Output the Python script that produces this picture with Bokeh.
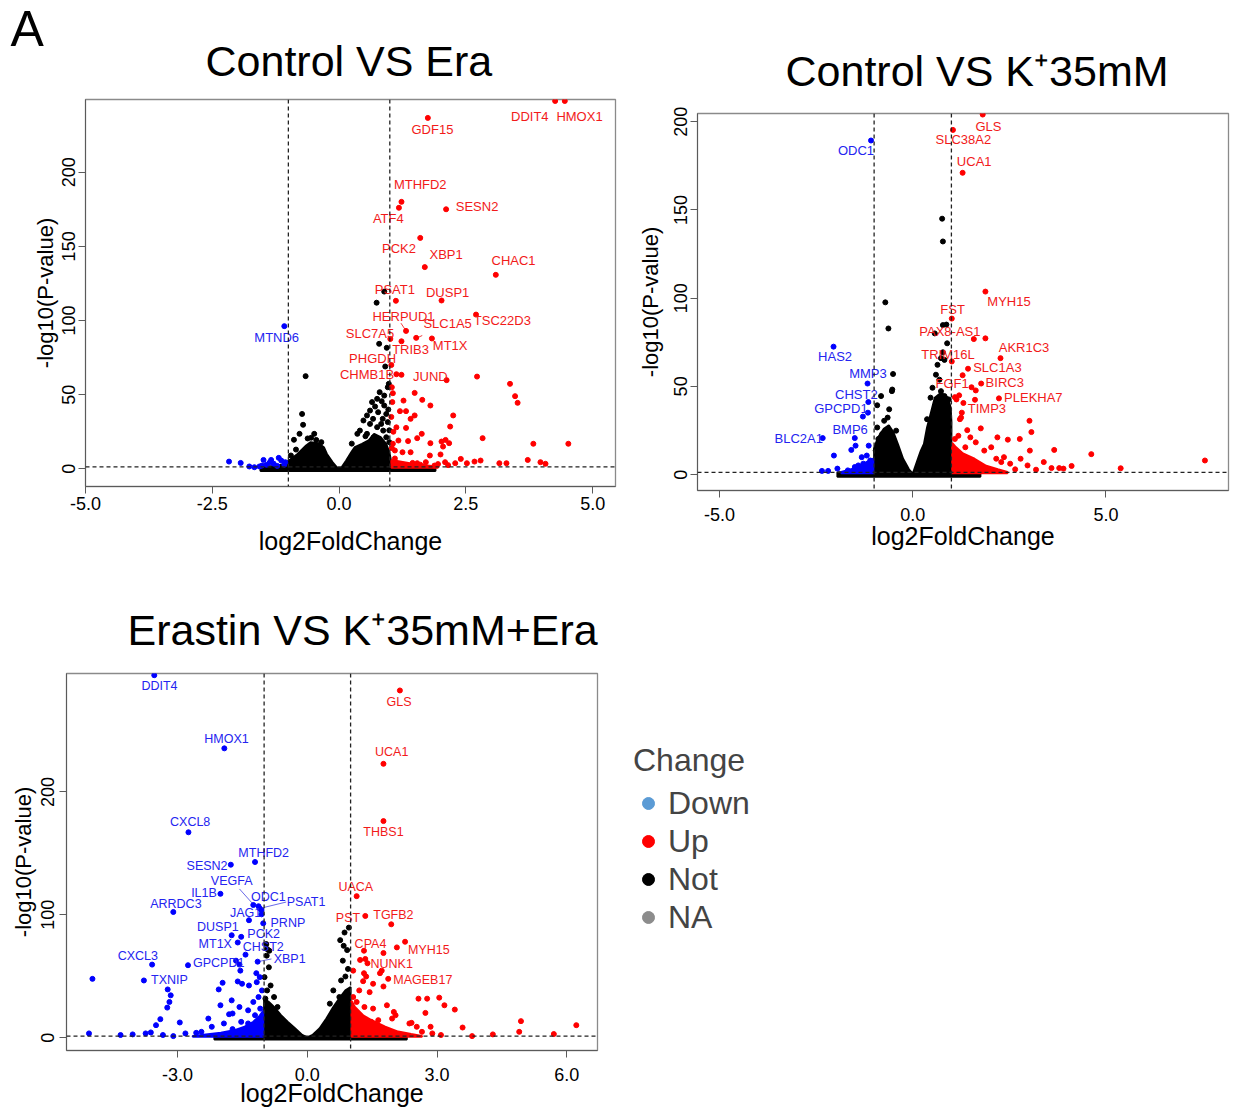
import math
from bokeh.plotting import figure
from bokeh.layouts import column, row
from bokeh.models import (Span, Title, FixedTicker, Legend, LegendItem,
                          Range1d, ColumnDataSource)
from bokeh.embed import file_html
from bokeh.resources import INLINE
from bokeh.core.properties import value

FONT = "Liberation Sans"
LFC_CUT = 1.0
P_CUT = -math.log10(0.05)
NAN = float("nan")

# ---------------------------------------------------------------- legend
legend_title = "Change"
legend_labels = ["Down", "Up", "Not", "NA"]
legend_colors = ["#5b9bd5", "#ff0000", "#000000", "#8c8c8c"]
panel_tag = "A"

# ================================================================ panel 1: Control VS Era
era_title = "Control VS Era"
era_xticks = [-5.0, -2.5, 0.0, 2.5, 5.0]
era_xtick_labels = ["-5.0", "-2.5", "0.0", "2.5", "5.0"]
era_yticks = [0, 50, 100, 150, 200]
era_ytick_labels = ["0", "50", "100", "150", "200"]

era_gene = ["DDIT4", "HMOX1", "GDF15", "MTHFD2", "ATF4", "SESN2", "PCK2", "XBP1", "CHAC1",
            "PSAT1", "DUSP1", "HERPUD1", "SLC1A5", "TSC22D3", "SLC7A5", "TRIB3", "MT1X",
            "PHGDH", "CHMB1B", "JUND", "MTND6"]
era_gene_x = [4.26, 4.45, 1.75, 1.23, 1.18, 2.11, 1.60, 1.69, 3.09, 1.12, 2.02, 1.32, 1.52,
              2.70, 1.01, 1.23, 1.83, 1.03, 1.13, 2.12, -1.08]
era_gene_y = [248, 248, 236.6, 180, 176, 175, 155.7, 136, 130.8, 113.3, 113.5, 93, 88.3,
              104, 87.6, 86, 87.9, 70, 63.8, 59.8, 96.2]
era_gene_change = ["Up"] * 20 + ["Down"]
era_gene_tx = [3.76, 4.74, 1.84, 1.60, 0.97, 2.72, 1.18, 2.11, 3.44, 1.10, 2.14, 1.27, 2.14,
               3.22, 0.61, 1.41, 2.19, 0.66, 0.55, 1.80, -1.23]
era_gene_ty = [237.5, 237.5, 229, 191.5, 169, 177, 148.8, 144.5, 140.4, 121, 118.6, 102.5,
               98.2, 100, 91, 80.2, 83.1, 74.2, 63.4, 62.5, 88.8]
era_seg_x0 = [1.22, 1.64]
era_seg_y0 = [98.2, 89.9]
era_seg_x1 = [1.32, 1.54]
era_seg_y1 = [93.0, 88.3]

era_up_x = [2.72, 3.37, 3.47, 3.52, 1.06, 1.49, 1.64, 1.80, 1.27, 1.20, 1.32, 1.49, 1.41, 2.25,
            2.19, 1.13, 1.32, 1.63, 1.54, 1.36, 1.17, 1.80, 2.02, 2.17, 2.83, 3.83, 4.52, 2.00,
            1.79, 1.06, 1.10, 1.25, 1.41, 2.40, 2.67, 2.79, 3.16, 3.30, 3.72, 3.97, 4.07, 2.09,
            2.29, 2.52, 1.71, 1.54, 1.88, 1.23, 1.04, 1.05, 1.03, 1.07, 1.04, 1.10, 1.15, 1.30,
            1.45, 1.60, 1.95, 2.15, 2.05, 2.10]
era_up_y = [62.2, 57.3, 49, 44.5, 51, 51.2, 46.5, 42.7, 46, 38.9, 38.9, 36, 33.7, 36,
            28.5, 28, 27.6, 23.6, 20.7, 18.7, 19.1, 17.3, 18.4, 17.3, 20.7, 16.9, 16.9, 9.7,
            9, 16.9, 12.4, 11.2, 11.2, 6.7, 4.9, 5.6, 3.8, 3.8, 6, 4.5, 3.4, 4.5,
            3.8, 3.8, 4.5, 3.8, 2.2, 63.4, 55, 45, 35, 25, 14, 7, 3, 2.5,
            4, 2.8, 3.2, 2.5, 15, 19.5]
era_down_x = [-2.17, -1.94, -1.77, -1.67, -1.49, -1.34, -1.19, -1.14, -1.06, -1.57, -1.43,
              -1.29, -1.22, -1.08, -1.37, -1.52]
era_down_y = [4.9, 4.0, 1.6, 1.1, 6.0, 6.0, 7.4, 5.6, 4.5, 1.6, 2.7, 3.5, 2.0, 2.8, 4.2, 2.2]
era_not_x = [-0.66, -0.73, -0.71, -0.49, -0.78, -0.89, 0.89, 0.74, 0.79, 0.94, 0.91, 0.98,
             0.96, 0.80, 0.89, 0.75, 0.84, 0.65, 0.89, 0.71, 0.61, 0.77, 0.93, 0.55, 0.67,
             0.86, 0.48, 0.96, 0.61, 0.41, 0.75, 0.87, 0.36, 0.55, 0.68, 0.93, 0.83, 0.72,
             0.99, -0.62, -0.55, -0.45, -0.35, -0.95, -0.85, 0.25, 0.52, 0.99, 0.97]
era_not_y = [62.5, 37, 29.7, 23.6, 23.6, 19.6, 119.5, 112, 84.3, 81.6, 69, 57.3,
             55, 51.7, 49.4, 47.2, 45.6, 45, 42.7, 42, 39.3, 38.2, 37, 36, 33.7,
             33.7, 32.6, 31.5, 30.3, 25.8, 28.1, 25.8, 23.6, 23.6, 21.3, 21.3, 30.3, 16.9,
             18, 20.5, 21, 19.5, 18, 9, 13, 17, 22, 26, 40]
# outlines of the dense, overplotted point clouds
era_not_core_x = [-1.55, -1.30, -1.10, -0.99, -0.82, -0.65, -0.56, -0.41, -0.30, -0.24, -0.13,
                  -0.03, 0.04, 0.14, 0.24, 0.31, 0.45, 0.58, 0.69, 0.82, 0.93, 0.99, 1.03,
                  1.30, 1.60, 1.90, 1.90, -1.55]
era_not_core_y = [1.5, 2.0, 3.0, 5.6, 10.0, 15.7, 18.0, 17.3, 14.6, 10.0, 4.5, 0.5, 0.5, 5.6,
                  11.2, 14.6, 16.9, 19.1, 23.6, 21.3, 16.9, 11.2, 4.5, 2.2, 1.5, 1.0, -1.5, -1.5]
era_up_core_x = [1.03, 1.03, 1.20, 1.45, 1.70, 1.95, 1.95]
era_up_core_y = [0.8, 6.0, 5.0, 3.5, 2.5, 1.5, 0.8]

# ================================================================ panel 2: Control VS K+35mM
k35_title = "Control VS K\u207a35mM"
k35_xticks = [-5.0, 0.0, 5.0]
k35_xtick_labels = ["-5.0", "0.0", "5.0"]
k35_yticks = [0, 50, 100, 150, 200]
k35_ytick_labels = ["0", "50", "100", "150", "200"]

k35_gene = ["GLS", "SLC38A2", "UCA1", "ODC1", "MYH15", "FST", "PAX8-AS1", "AKR1C3", "TRIM16L",
            "SLC1A3", "BIRC3", "FGF1", "PLEKHA7", "TIMP3", "HAS2", "MMP3", "CHST2", "GPCPD1",
            "BMP6", "BLC2A1"]
k35_gene_x = [1.81, 1.04, 1.29, -1.08, 1.88, 1.01, 1.58, 2.27, 1.01, 1.43, 1.77, 1.29, 2.23,
              1.61, -2.05, -1.17, -1.15, -1.16, -1.50, -2.33]
k35_gene_y = [204, 195.3, 171, 189.3, 103.7, 88.4, 76.8, 66, 64.1, 60, 51.6, 56.3, 43.2,
              42.4, 72.5, 51.6, 41.1, 35.1, 20.7, 20.7]
k35_gene_change = ["Up", "Up", "Up", "Down", "Up", "Up", "Up", "Up", "Up", "Up", "Up", "Up",
                   "Up", "Up", "Down", "Down", "Down", "Down", "Down", "Down"]
k35_gene_tx = [1.96, 1.31, 1.59, -1.47, 2.49, 1.03, 0.96, 2.88, 0.91, 2.19, 2.38, 1.02, 3.12,
               1.92, -2.01, -1.16, -1.46, -1.86, -1.62, -2.95]
k35_gene_ty = [197, 189.7, 177.2, 183.7, 98.1, 93.6, 80.9, 72, 68.2, 60.7, 52, 51.6, 43.6,
               37.6, 66.9, 57.2, 45.4, 37.6, 25.8, 20.2]

k35_up_x = [1.88, 1.09, 1.20, 1.13, 1.27, 1.25, 1.22, 1.76, 1.41, 2.19, 2.46, 2.77, 3.02, 3.07,
            3.03, 3.66, 4.62, 7.56, 5.38, 4.11, 3.90, 3.79, 3.59, 3.39, 3.19, 2.97, 2.65, 2.36,
            2.16, 2.03, 1.85, 1.63, 1.49, 1.18, 1.09, 1.36, 2.29, 2.52, 2.79, 1.52, 1.63, 1.31]
k35_up_y = [77.2, 43.9, 44.9, 42.6, 35.1, 32.3, 31.4, 26.2, 25.2, 21.1, 19.8, 20.2, 30.5, 24.1,
            13.6, 14.0, 11.6, 8.0, 3.6, 4.9, 3.4, 3.7, 3.7, 7.1, 2.8, 5.2, 3.0, 9.9,
            9.0, 15.5, 13.6, 18.3, 21.1, 22.0, 20.2, 15.5, 7.1, 6.2, 9.0, 49.5, 47.7, 40.6]
k35_down_x = [-2.04, -1.59, -1.48, -1.14, -1.32, -1.19, -2.35, -2.19, -1.95, -1.68, -1.41,
              -1.28, -1.10, -1.50, -1.23, -1.29]
k35_down_y = [10.8, 14.0, 16.4, 16.4, 9.9, 10.8, 2.1, 2.1, 3.4, 2.4, 5.2, 6.2, 8.0, 4.3, 3.4,
              32.9]
k35_not_x = [0.76, 0.78, -0.71, -0.63, 0.87, 0.78, 0.89, 0.57, 0.78, 0.82, 0.73, -0.51, -0.53,
             -0.54, -0.82, -0.92, -0.65, -0.61, -0.92, -0.79, 0.64, 0.60, 0.69, 0.51, 0.73,
             0.82, 0.93, 0.46, 0.64, 0.87, 0.54, 0.78, 0.37, 0.93, -0.74, -0.43, -0.89, -0.96]
k35_not_y = [145, 132.1, 97.6, 82.8, 85, 84.7, 74.4, 80, 69.3, 65, 66, 57, 48.2,
             47.3, 44.5, 39.3, 32.3, 37, 26.7, 23, 62.2, 56.6, 53.8, 49.2, 47.3,
             44.5, 42.6, 43.6, 39.8, 37.9, 35.1, 33.3, 31.4, 29.5, 30.5, 24.9, 20.2, 13.6]
k35_not_core_x = [-1.95, -1.50, -1.00, -1.00, -0.90, -0.75, -0.62, -0.50, -0.38, -0.25, -0.10,
                  0.0, 0.06, 0.15, 0.21, 0.29, 0.37, 0.46, 0.57, 0.73, 0.91, 0.98, 1.00, 1.00,
                  1.40, 1.75, 1.75, -1.95]
k35_not_core_y = [1.3, 1.5, 2.0, 15.0, 21.0, 26.0, 28.0, 24.0, 17.0, 9.0, 3.0, 0.5, 4.3, 9.9,
                  13.6, 17.4, 26.7, 34.2, 43.6, 46.4, 43.6, 38.0, 30.0, 2.0, 1.5, 1.3, -1.2,
                  -1.2]
k35_up_core_x = [1.02, 1.02, 1.10, 1.30, 1.60, 1.90, 2.20, 2.45, 2.45]
k35_up_core_y = [0.8, 18.0, 16.0, 12.0, 9.0, 5.0, 3.0, 1.5, 0.8]
k35_down_core_x = [-1.02, -1.02, -1.20, -1.40, -1.60, -1.85, -1.85]
k35_down_core_y = [0.8, 9.0, 7.0, 5.0, 3.0, 1.5, 0.8]

# ================================================================ panel 3: Erastin VS K+35mM+Era
erak_title = "Erastin VS K\u207a35mM+Era"
erak_xticks = [-3.0, 0.0, 3.0, 6.0]
erak_xtick_labels = ["-3.0", "0.0", "3.0", "6.0"]
erak_yticks = [0, 100, 200]
erak_ytick_labels = ["0", "100", "200"]

erak_gene = ["DDIT4", "HMOX1", "CXCL8", "MTHFD2", "SESN2", "VEGFA", "IL1B", "ODC1", "PSAT1",
             "ARRDC3", "JAG1", "PRNP", "DUSP1", "PCK2", "MT1X", "CHST2", "CXCL3", "GPCPD1",
             "XBP1", "TXNIP", "GLS", "UCA1", "THBS1", "UACA", "PST", "TGFB2", "CPA4",
             "MYH15", "NUNK1", "MAGEB17"]
erak_gene_x = [-3.54, -1.92, -2.75, -1.21, -1.77, -1.25, -2.01, -1.13, -1.10, -3.10, -1.35,
               -1.02, -1.75, -1.53, -1.61, -1.43, -3.59, -2.76, -1.15, -3.78, 2.14, 1.76,
               1.76, 1.14, 1.34, 1.94, 1.31, 2.26, 1.72, 1.87]
erak_gene_y = [295, 235.5, 167.2, 143, 140.8, 108, 117.1, 107, 105.2, 102.3, 95.6, 93.1,
               83.4, 82.1, 77.5, 67.6, 59.5, 59, 61.9, 46.6, 282.6, 222.9, 176.3, 115.2,
               99.1, 92.3, 70.8, 78.1, 54.6, 47.9]
erak_gene_change = ["Down"] * 20 + ["Up"] * 10
erak_gene_tx = [-3.42, -1.87, -2.71, -1.01, -2.32, -1.75, -2.39, -0.90, -0.03, -3.04, -1.43,
                -0.45, -2.07, -1.01, -2.13, -1.02, -3.92, -2.05, -0.41, -3.19, 2.12, 1.95,
                1.76, 1.12, 0.94, 1.99, 1.46, 2.81, 1.95, 2.67]
erak_gene_ty = [286, 243, 175.8, 150.7, 139.4, 127.3, 117.9, 114.7, 110.4, 109, 101.2, 93.7,
                90.2, 84.3, 76.2, 74, 66.2, 60.8, 64.1, 47.1, 273.2, 232.3, 167.7, 122.5,
                97.7, 99.6, 76.2, 71.3, 60, 47.1]
erak_seg_x0 = [-1.57, -0.49, -0.83]
erak_seg_y0 = [121.1, 110.4, 64.1]
erak_seg_x1 = [-1.25, -1.10, -1.15]
erak_seg_y1 = [108.5, 105.2, 61.9]

erak_up_x = [1.76, 1.34, 1.22, 1.39, 1.31, 1.36, 1.29, 1.06, 1.52, 1.68, 1.20, 1.44, 1.06,
             1.14, 1.32, 1.52, 1.84, 2.00, 2.04, 2.57, 2.77, 3.05, 3.17, 3.41, 2.73, 2.36,
             2.53, 2.85, 3.59, 4.94, 4.90, 6.22, 5.70, 4.29, 3.81, 3.09, 2.89, 2.65, 2.41,
             1.96, 1.64, 1.48, 2.07, 1.76]
erak_up_y = [68.9, 64.1, 63.3, 60.6, 52.5, 49.8, 46.0, 54.6, 43.9, 52.5, 38.5, 37.1, 33.1,
             29.1, 25.0, 23.7, 26.4, 21.0, 18.3, 31.8, 31.8, 32.6, 26.4, 22.9, 20.2, 11.6,
             8.9, 8.9, 8.3, 13.5, 4.8, 10.2, 3.0, 2.7, 1.3, 2.2, 3.5, 4.8, 12.1,
             15.6, 14.3, 12.9, 73.5, 41.7]
erak_down_x = [-4.97, -3.23, -3.16, -3.19, -3.24, -3.40, -3.50, -2.95, -3.62, -3.74, -4.04,
               -4.32, -5.05, -3.34, -3.10, -2.82, -1.96, -2.05, -1.75, -2.01, -1.81, -1.73,
               -2.29, -1.93, -1.57, -1.61, -1.51, -1.35, -1.18, -1.17, -1.10, -1.05, -1.13,
               -1.25, -1.37, -1.21, -1.09, -1.53, -1.37, -2.21, -2.45, -2.57, -1.73, -1.57,
               -1.55, -1.65, -1.06, -1.06]
erak_down_y = [47.9, 39.3, 34.5, 29.1, 24.5, 15.1, 10.2, 12.4, 4.3, 3.5, 2.7,
               2.2, 3.5, 2.2, 1.3, 3.5, 44.7, 39.3, 30.4, 26.4, 19.1, 19.7,
               15.6, 11.6, 25.0, 45.8, 43.9, 42.5, 52.5, 45.2, 49.3, 38.5, 33.1,
               29.1, 22.3, 18.3, 23.7, 12.9, 11.6, 8.9, 4.8, 4.0, 7.0, 59.5,
               54.6, 62.7, 103.9, 100.4]
erak_not_x = [0.86, 0.96, 0.76, 0.84, 0.92, 0.82, 0.94, 0.88, 0.78, 0.60, 0.74, 0.92, 0.52,
              -0.95, -0.93, -0.88, -0.94, -0.89, -0.99, -0.85, -0.93, -0.77, -0.97, -0.69]
erak_not_y = [85.6, 89.6, 79.4, 74.8, 71.3, 62.7, 56.0, 49.8, 46.6, 38.5, 33.1, 26.4, 27.7,
              76.2, 72.1, 70.8, 66.8, 57.3, 49.3, 42.5, 38.5, 33.1, 31.8, 25.0]
erak_not_core_x = [-2.15, -1.60, -1.00, -1.00, -0.89, -0.77, -0.61, -0.45, -0.28, -0.12, 0.0,
                   0.12, 0.28, 0.44, 0.60, 0.76, 0.88, 1.00, 1.00, 1.60, 2.30, 2.30, -2.15]
erak_not_core_y = [1.3, 1.5, 2.0, 31.8, 29.0, 25.0, 18.3, 12.9, 7.5, 2.2, 0.3, 2.2, 7.5, 15.6,
                   25.0, 33.1, 38.5, 41.2, 2.0, 1.5, 1.3, -1.5, -1.5]
erak_up_core_x = [1.02, 1.02, 1.10, 1.30, 1.50, 1.80, 2.10, 2.40, 2.65, 2.65]
erak_up_core_y = [0.8, 30.0, 25.0, 18.0, 14.0, 9.0, 5.0, 3.0, 1.5, 0.8]
erak_down_core_x = [-1.02, -1.02, -1.10, -1.25, -1.45, -1.70, -2.00, -2.40, -2.65, -2.65]
erak_down_core_y = [0.8, 22.0, 18.0, 13.0, 9.0, 6.0, 4.0, 2.5, 1.5, 0.8]

# ---------------------------------------------------------------- styling
POINT_COLOR = {"Up": "#ff0000", "Down": "#0000ff", "Not": "#000000"}
TEXT_COLOR = {"Up": "#f21a1a", "Down": "#2424f0", "Not": "#000000"}
AXIS_GRAY = "#5a5a5a"
PT = 5


def style_axis(ax, label, label_size, standoff, label_standoff, vertical=False):
    ax.axis_label = label
    ax.axis_label_text_font = FONT
    ax.axis_label_text_font_size = label_size
    ax.axis_label_text_font_style = "normal"
    ax.axis_label_text_color = "black"
    ax.axis_label_standoff = label_standoff
    ax.major_label_text_font = FONT
    ax.major_label_text_font_size = "18px"
    ax.major_label_text_color = "black"
    ax.major_label_standoff = standoff
    ax.major_tick_out = 7
    ax.major_tick_in = 0
    ax.minor_tick_out = 0
    ax.minor_tick_in = 0
    ax.axis_line_color = AXIS_GRAY
    ax.major_tick_line_color = AXIS_GRAY
    if vertical:
        ax.major_label_orientation = "vertical"


def volcano(sp):
    p = figure(width=sp["W"], height=sp["H"], output_backend="svg", toolbar_location=None,
               x_range=Range1d(*sp["xr"]), y_range=Range1d(*sp["yr"]), title=None,
               min_border_left=sp["mb"][0], min_border_right=sp["mb"][1],
               min_border_top=sp["mb"][2], min_border_bottom=sp["mb"][3],
               margin=sp.get("margin", 0))
    p.grid.visible = False
    p.outline_line_color = "#8a8a8a"
    p.outline_line_width = 1.3
    p.background_fill_color = "white"
    p.border_fill_color = "white"

    # dense overplotted clouds
    p.patch(sp["not_core"][0], sp["not_core"][1], color="#000000", line_width=2)
    p.patch(sp["up_core"][0], sp["up_core"][1], color="#ff0000", line_width=2)
    if sp.get("down_core"):
        p.patch(sp["down_core"][0], sp["down_core"][1], color="#0000ff", line_width=2)

    p.scatter(sp["not"][0], sp["not"][1], size=PT, color=POINT_COLOR["Not"])
    p.scatter(sp["down"][0], sp["down"][1], size=PT, color=POINT_COLOR["Down"])
    p.scatter(sp["up"][0], sp["up"][1], size=PT, color=POINT_COLOR["Up"])

    for loc in (-LFC_CUT, LFC_CUT):
        p.add_layout(Span(location=loc, dimension="height", line_dash="4 3",
                          line_color="#222222", line_width=1.3))
    p.add_layout(Span(location=P_CUT, dimension="width", line_dash="4 3",
                      line_color="#222222", line_width=1.3))

    g = sp["genes"]
    src = ColumnDataSource(dict(
        gene=g[0], x=g[1], y=g[2], tx=g[4], ty=g[5],
        pc=[POINT_COLOR[c] for c in g[3]], tc=[TEXT_COLOR[c] for c in g[3]]))
    if sp.get("segs"):
        s = sp["segs"]
        p.segment(s[0], s[1], s[2], s[3], line_color=sp["seg_color"], line_width=1)
    p.scatter("x", "y", source=src, size=PT, color="pc")
    p.text("tx", "ty", text="gene", source=src, text_color="tc", text_font=value(FONT),
           text_font_size=sp["gene_size"], text_align="center", text_baseline="middle")

    xa = p.xaxis[0]
    xa.ticker = FixedTicker(ticks=sp["xticks"])
    xa.major_label_overrides = dict(zip(sp["xticks"], sp["xtick_labels"]))
    style_axis(xa, "log2FoldChange", "25px", sp["xax"][0], sp["xax"][1])
    ya = p.yaxis[0]
    ya.ticker = FixedTicker(ticks=sp["yticks"])
    ya.major_label_overrides = dict(zip(sp["yticks"], sp["ytick_labels"]))
    style_axis(ya, "-log10(P-value)", "22px", sp["yax"][0], sp["yax"][1], vertical=True)

    p.add_layout(Title(text=sp["title"], align="left", offset=sp["t_off"],
                       standoff=sp["t_standoff"], text_font=FONT, text_font_size="43px",
                       text_font_style="normal", text_color="black"), "above")
    return p


p1 = volcano(dict(
    W=628, H=560, xr=(-5.0, 5.45), yr=(-11.9, 249.0), mb=(85, 13, 99, 74),
    not_core=(era_not_core_x, era_not_core_y), up_core=(era_up_core_x, era_up_core_y),
    down_core=None,
    **{"not": (era_not_x, era_not_y)}, down=(era_down_x, era_down_y), up=(era_up_x, era_up_y),
    genes=(era_gene, era_gene_x, era_gene_y, era_gene_change, era_gene_tx, era_gene_ty),
    segs=(era_seg_x0, era_seg_y0, era_seg_x1, era_seg_y1), seg_color="#f04040",
    gene_size="13px", xticks=era_xticks, xtick_labels=era_xtick_labels,
    yticks=era_yticks, ytick_labels=era_ytick_labels,
    xax=(3, 14), yax=(3, 2), title=era_title, t_off=120, t_standoff=30))
# panel tag "A", stacked outside the title
p1.add_layout(Title(text=panel_tag, align="left", offset=-75, standoff=-75, text_font=FONT,
                    text_font_size="50px", text_font_style="normal", text_color="black"),
              "above")

p2 = volcano(dict(
    W=602, H=550, xr=(-5.57, 8.17), yr=(-9.0, 204.6), mb=(69, 2, 99, 74),
    margin=(14, 0, 0, 0),
    not_core=(k35_not_core_x, k35_not_core_y), up_core=(k35_up_core_x, k35_up_core_y),
    down_core=(k35_down_core_x, k35_down_core_y),
    **{"not": (k35_not_x, k35_not_y)}, down=(k35_down_x, k35_down_y), up=(k35_up_x, k35_up_y),
    genes=(k35_gene, k35_gene_x, k35_gene_y, k35_gene_change, k35_gene_tx, k35_gene_ty),
    segs=None, seg_color="#f04040",
    gene_size="13px", xticks=k35_xticks, xtick_labels=k35_xtick_labels,
    yticks=k35_yticks, ytick_labels=k35_ytick_labels,
    xax=(10, -2), yax=(3, 9), title=k35_title, t_off=88, t_standoff=38))

p3 = volcano(dict(
    W=620, H=547, xr=(-5.57, 6.71), yr=(-10.4, 296.4), mb=(66, 23, 109, 61),
    not_core=(erak_not_core_x, erak_not_core_y), up_core=(erak_up_core_x, erak_up_core_y),
    down_core=(erak_down_core_x, erak_down_core_y),
    **{"not": (erak_not_x, erak_not_y)}, down=(erak_down_x, erak_down_y),
    up=(erak_up_x, erak_up_y),
    genes=(erak_gene, erak_gene_x, erak_gene_y, erak_gene_change, erak_gene_tx, erak_gene_ty),
    segs=(erak_seg_x0, erak_seg_y0, erak_seg_x1, erak_seg_y1), seg_color="#6a6ae8",
    gene_size="12.5px", xticks=erak_xticks, xtick_labels=erak_xtick_labels,
    yticks=erak_yticks, ytick_labels=erak_ytick_labels,
    xax=(10, -5), yax=(5, 3), title=erak_title, t_off=61, t_standoff=40))

# ---------------------------------------------------------------- legend panel
leg = figure(width=602, height=547, output_backend="svg", toolbar_location=None,
             x_axis_type=None, y_axis_type=None, x_range=Range1d(0, 1), y_range=Range1d(0, 1),
             min_border=0, title=None)
leg.grid.visible = False
leg.outline_line_color = None
items = []
for lbl, col in zip(legend_labels, legend_colors):
    r = leg.scatter(x=[NAN], y=[NAN], size=11, color=col)
    items.append(LegendItem(label=lbl, renderers=[r]))
legend = Legend(items=items, location=(13, 114), title=legend_title,
                title_text_font=FONT, title_text_font_size="32px",
                title_text_font_style="normal", title_standoff=5,
                label_text_font=FONT, label_text_font_size="32px",
                glyph_width=30, glyph_height=38, label_height=38, label_standoff=5,
                spacing=0, padding=0, margin=0, border_line_color=None,
                background_fill_alpha=0)
leg.add_layout(legend)

layout = column(row(p1, p2), row(p3, leg))
open("out.html", "w").write(file_html(layout, INLINE))
